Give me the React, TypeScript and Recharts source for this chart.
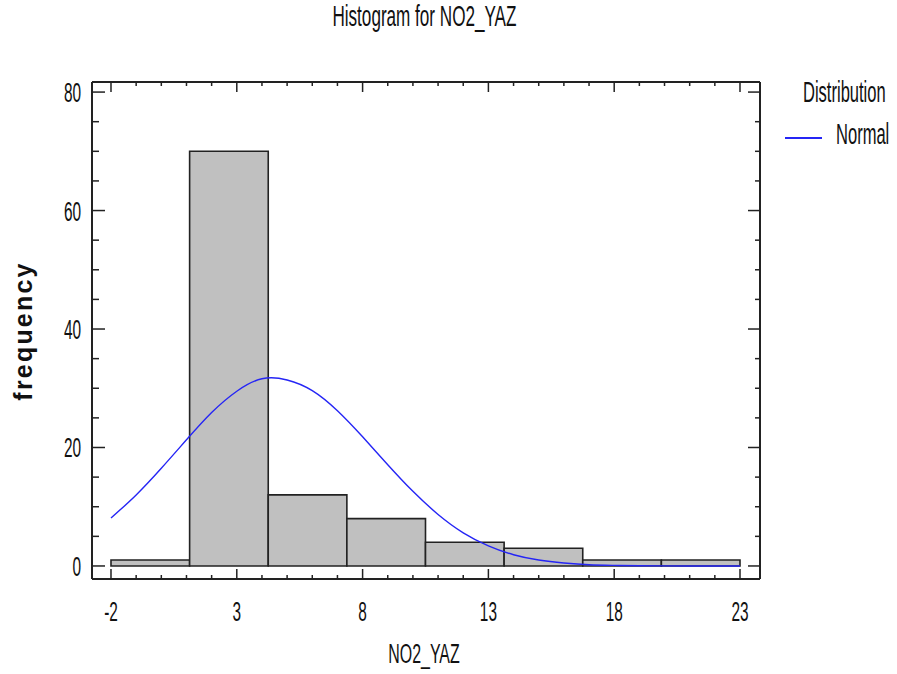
import { ComposedChart, XAxis, YAxis, Line, ReferenceArea } from "recharts";

// histogram bins (NO2_YAZ)
const binStart = [-2, 1.125, 4.25, 7.375, 10.5, 13.625, 16.75, 19.875];
const binEnd = [1.125, 4.25, 7.375, 10.5, 13.625, 16.75, 19.875, 23];
const counts = [1, 70, 12, 8, 4, 3, 1, 1];

// fitted normal curve
const curveX = [-2, -1, 0, 1, 2, 3, 4, 5, 6, 7, 8, 9, 10, 11, 12, 13, 14, 15, 16, 17, 18, 19, 20, 21, 22, 23];
const curveY = [8.1, 12.0, 16.5, 21.3, 25.9, 29.5, 31.6, 31.4, 29.6, 26.2, 21.8, 17.1, 12.6, 8.7, 5.6, 3.4, 1.9, 1.0, 0.5, 0.2, 0.1, 0.04, 0.01, 0, 0, 0];

const xTicks = [-2, -1, 0, 1, 2, 3, 4, 5, 6, 7, 8, 9, 10, 11, 12, 13, 14, 15, 16, 17, 18, 19, 20, 21, 22, 23];
const xLabelTicks = [-2, 3, 8, 13, 18, 23];
const yTicks = [0, 5, 10, 15, 20, 25, 30, 35, 40, 45, 50, 55, 60, 65, 70, 75, 80];
const yLabelTicks = [0, 20, 40, 60, 80];

const data = curveX.map((x, i) => ({ x, fit: curveY[i] }));

const X_DOMAIN: [number, number] = [-2.755, 23.795];
const Y_DOMAIN: [number, number] = [-2.2, 81.7];
const AXIS = "#222";
const BLUE = "#2525f5";
const FONT = "'Liberation Sans', Arial, sans-serif";
const SQUEEZE = 0.57; // tall condensed lettering of the original

function NarrowText(props: { x: number; y: number; anchor: string; size: number; children: any }) {
	const { x, y, anchor, size, children } = props;
	return (
		<text
			transform={`translate(${x} ${y}) scale(${SQUEEZE} 1)`}
			textAnchor={anchor}
			fontSize={size}
			fontFamily={FONT}
			fill="#111"
		>
			{children}
		</text>
	);
}

function NarrowSpan(props: { origin: string; size: number; children: any }) {
	return (
		<span
			style={{
				display: "inline-block",
				transform: `scaleX(${SQUEEZE})`,
				transformOrigin: props.origin,
				fontFamily: FONT,
				fontSize: props.size,
				lineHeight: 1,
				color: "#111",
				whiteSpace: "nowrap",
			}}
		>
			{props.children}
		</span>
	);
}

function BottomTick(props: any) {
	const { x, y, payload } = props;
	const major = xLabelTicks.includes(payload.value);
	return (
		<g>
			<line x1={x} y1={y} x2={x} y2={y - (major ? 10 : 4)} stroke={AXIS} strokeWidth={1.5} />
			{major && (
				<NarrowText x={x} y={y + 42} anchor="middle" size={27}>
					{payload.value}
				</NarrowText>
			)}
		</g>
	);
}

function TopTick(props: any) {
	const { x, y, payload } = props;
	const major = xLabelTicks.includes(payload.value);
	return <line x1={x} y1={y} x2={x} y2={y + (major ? 10 : 4)} stroke={AXIS} strokeWidth={1.5} />;
}

function LeftTick(props: any) {
	const { x, y, payload } = props;
	const major = yLabelTicks.includes(payload.value);
	return (
		<g>
			<line x1={x} y1={y} x2={x + (major ? 13 : 7)} y2={y} stroke={AXIS} strokeWidth={1.5} />
			{major && (
				<NarrowText x={x - 11} y={y + 10} anchor="end" size={27}>
					{payload.value}
				</NarrowText>
			)}
		</g>
	);
}

function RightTick(props: any) {
	const { x, y, payload } = props;
	const major = yLabelTicks.includes(payload.value);
	return <line x1={x} y1={y} x2={x - (major ? 12 : 5)} y2={y} stroke={AXIS} strokeWidth={1.5} />;
}

export default function App() {
	return (
		<div style={{ position: "absolute", left: 0, top: 0, width: 897, height: 674, background: "#fff" }}>
			<div style={{ position: "absolute", left: 0, width: 848, top: 1, textAlign: "center" }}>
				<NarrowSpan origin="center" size={30}>
					Histogram for NO2_YAZ
				</NarrowSpan>
			</div>
			<div style={{ position: "absolute", left: 803, top: 78 }}>
				<NarrowSpan origin="left" size={29}>
					Distribution
				</NarrowSpan>
			</div>
			<div style={{ position: "absolute", left: 785, top: 137, width: 37, height: 0, borderTop: `2px solid ${BLUE}` }} />
			<div style={{ position: "absolute", left: 836, top: 120 }}>
				<NarrowSpan origin="left" size={29}>
					Normal
				</NarrowSpan>
			</div>
			<ComposedChart width={897} height={674} data={data} margin={{ top: 72, right: 127, bottom: 0, left: 0 }}>
				<XAxis
					dataKey="x"
					type="number"
					domain={X_DOMAIN}
					ticks={xTicks}
					interval={0}
					height={95}
					tickSize={0}
					tickMargin={0}
					tickLine={false}
					axisLine={{ stroke: AXIS, strokeWidth: 2 }}
					tick={<BottomTick />}
					allowDataOverflow
					label={() => (
						<NarrowText x={424} y={663} anchor="middle" size={28}>
							NO2_YAZ
						</NarrowText>
					)}
				/>
				<XAxis
					xAxisId="top"
					dataKey="x"
					orientation="top"
					type="number"
					domain={X_DOMAIN}
					ticks={xTicks}
					interval={0}
					height={10}
					tickSize={0}
					tickMargin={0}
					tickLine={false}
					axisLine={{ stroke: AXIS, strokeWidth: 2 }}
					tick={<TopTick />}
					allowDataOverflow
				/>
				<YAxis
					type="number"
					domain={Y_DOMAIN}
					ticks={yTicks}
					interval={0}
					width={92}
					tickSize={0}
					tickMargin={0}
					tickLine={false}
					axisLine={{ stroke: AXIS, strokeWidth: 2 }}
					tick={<LeftTick />}
					allowDataOverflow
					label={() => (
						<text
							x={32}
							y={331}
							transform="rotate(-90 32 331)"
							textAnchor="middle"
							fontSize={25}
							fontWeight="bold"
							letterSpacing={2.2}
							fontFamily={FONT}
							fill="#111"
						>
							frequency
						</text>
					)}
				/>
				<YAxis
					yAxisId="right"
					orientation="right"
					type="number"
					domain={Y_DOMAIN}
					ticks={yTicks}
					interval={0}
					width={10}
					tickSize={0}
					tickMargin={0}
					tickLine={false}
					axisLine={{ stroke: AXIS, strokeWidth: 2 }}
					tick={<RightTick />}
					allowDataOverflow
				/>
				{counts.map((c, i) => (
					<ReferenceArea
						key={i}
						x1={binStart[i]}
						x2={binEnd[i]}
						y1={0}
						y2={c}
						fill="#c0c0c0"
						fillOpacity={1}
						stroke={AXIS}
						strokeWidth={1.6}
						ifOverflow="visible"
					/>
				))}
				{/* invisible copy so the top / right frame axes get drawn */}
				<Line
					xAxisId="top"
					yAxisId="right"
					dataKey="fit"
					stroke="none"
					dot={false}
					activeDot={false}
					isAnimationActive={false}
				/>
				<Line
					type="natural"
					dataKey="fit"
					stroke={BLUE}
					strokeWidth={1.4}
					dot={false}
					isAnimationActive={false}
				/>
			</ComposedChart>
		</div>
	);
}
